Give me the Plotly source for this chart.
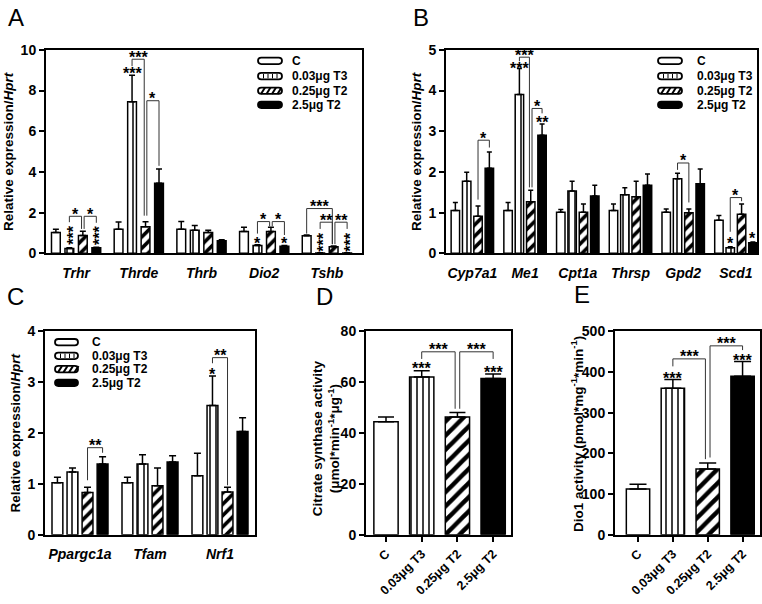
import plotly.graph_objects as go

W, H = 762, 604
FONT = "Liberation Sans, Arial, Helvetica, sans-serif"

series_names = ["C", "0.03μg T3", "0.25μg T2", "2.5μg T2"]

# ---------------- Panel A ----------------
genes_a = ["Trhr", "Thrde", "Thrb", "Dio2", "Tshb"]
a_c = [1.02, 1.18, 1.18, 1.07, 0.86]
a_c_sem = [0.16, 0.36, 0.38, 0.21, 0.04]
a_t3 = [0.24, 7.45, 1.13, 0.38, 0.02]
a_t3_sem = [0.03, 1.30, 0.24, 0.04, 0.01]
a_t2lo = [0.88, 1.31, 1.02, 1.07, 0.32]
a_t2lo_sem = [0.20, 0.24, 0.11, 0.21, 0.04]
a_t2hi = [0.27, 3.44, 0.62, 0.35, 0.02]
a_t2hi_sem = [0.03, 0.71, 0.05, 0.03, 0.01]

# ---------------- Panel B ----------------
genes_b = ["Cyp7a1", "Me1", "Cpt1a", "Thrsp", "Gpd2", "Scd1"]
b_c = [1.05, 1.05, 1.01, 1.05, 1.01, 0.81]
b_c_sem = [0.20, 0.20, 0.07, 0.16, 0.08, 0.12]
b_t3 = [1.77, 3.90, 1.53, 1.44, 1.83, 0.14]
b_t3_sem = [0.22, 0.64, 0.24, 0.17, 0.14, 0.02]
b_t2lo = [0.91, 1.27, 1.01, 1.39, 1.00, 0.96]
b_t2lo_sem = [0.25, 0.28, 0.20, 0.38, 0.09, 0.25]
b_t2hi = [2.09, 2.90, 1.41, 1.67, 1.71, 0.26]
b_t2hi_sem = [0.40, 0.28, 0.26, 0.28, 0.36, 0.02]

# ---------------- Panel C ----------------
genes_c = ["Ppargc1a", "Tfam", "Nrf1"]
c_c = [1.02, 1.02, 1.16]
c_c_sem = [0.11, 0.11, 0.44]
c_t3 = [1.23, 1.39, 2.54]
c_t3_sem = [0.08, 0.18, 0.58]
c_t2lo = [0.83, 0.96, 0.84]
c_t2lo_sem = [0.10, 0.35, 0.09]
c_t2hi = [1.39, 1.43, 2.03]
c_t2hi_sem = [0.14, 0.12, 0.27]

# ---------------- Panel D (citrate synthase) ----------------
d_vals = [44.4, 62.0, 46.3, 61.4]
d_sems = [1.9, 2.5, 1.7, 1.8]

# ---------------- Panel E (Dio1 activity) ----------------
e_vals = [112, 360, 161.6, 389.6]
e_sems = [12, 21.6, 14.4, 36]

# significance: (group, bar_i, bar_j, bracket_y, leg_i_bottom, leg_j_bottom, label)
brackets_a = [
    (0, 1, 2, 1.82, 1.53, 1.20, "*"),
    (0, 2, 3, 1.82, 1.20, 1.50, "*"),
    (1, 1, 2, 9.54, 9.20, 1.85, "***"),
    (1, 2, 3, 7.50, 1.85, 4.30, "*"),
    (3, 1, 2, 1.56, 0.97, 1.33, "*"),
    (3, 2, 3, 1.56, 1.33, 0.90, "*"),
    (4, 0, 2, 2.20, 0.97, 0.45, "***"),
    (4, 1, 2, 1.53, 1.20, 0.45, "**"),
    (4, 2, 3, 1.53, 0.45, 1.20, "**"),
]
stars_a = [  # (group, bar, y, label, vertical)
    (0, 1, 0.87, "***", True),
    (0, 3, 0.86, "***", True),
    (1, 1, 9.04, "***", False),
    (3, 1, 0.67, "*", False),
    (3, 3, 0.67, "*", False),
    (4, 1, 0.57, "***", True),
    (4, 3, 0.57, "***", True),
]
brackets_b = [
    (0, 2, 3, 2.78, 1.32, 2.60, "*"),
    (1, 1, 2, 4.82, 4.72, 1.62, "***"),
    (1, 2, 3, 3.56, 1.62, 3.44, "*"),
    (4, 1, 2, 2.22, 2.05, 1.25, "*"),
    (5, 1, 2, 1.37, 0.53, 1.28, "*"),
]
stars_b = [
    (1, 1, 4.63, "***", False),
    (1, 3, 3.32, "**", False),
    (5, 1, 0.33, "*", False),
    (5, 3, 0.45, "*", False),
]
brackets_c = [
    (0, 2, 3, 1.71, 1.07, 1.61, "**"),
    (2, 1, 2, 3.48, 3.37, 0.97, "**"),
]
stars_c = [
    (2, 1, 3.23, "*", False),
]
brackets_d = [
    (0, 1, 2, 71.9, 69.1, 49.5, "***"),
    (0, 2, 3, 71.9, 49.5, 69.1, "***"),
]
stars_d = [
    (0, 1, 67.0, "***", False),
    (0, 3, 65.3, "***", False),
]
brackets_e = [
    (0, 1, 2, 432, 413.6, 185.6, "***"),
    (0, 2, 3, 464, 189.6, 453.6, "***"),
]
stars_e = [
    (0, 1, 393.6, "***", False),
    (0, 3, 437.6, "***", False),
]


def px(x):
    return x / W


def py(y):
    return 1 - y / H


panels = [
    dict(key="A", sfx="", dx=(46, 362), dy=(43, 252), xr=[-0.48, 4.56], yr=[0, 10], dtick=2,
         cats=genes_a, vals=[a_c, a_t3, a_t2lo, a_t2hi],
         sems=[a_c_sem, a_t3_sem, a_t2lo_sem, a_t2hi_sem], grouped=True, width=0.14, cap=3,
         brackets=brackets_a, stars=stars_a, title="Relative expression/<i>Hprt</i>",
         tx=8.5, ty=147.5, letter=(15.5, 14)),
    dict(key="B", sfx="2", dx=(446, 757), dy=(43, 252), xr=[-0.5, 5.4], yr=[0, 5], dtick=1,
         cats=genes_b, vals=[b_c, b_t3, b_t2lo, b_t2hi],
         sems=[b_c_sem, b_t3_sem, b_t2lo_sem, b_t2hi_sem], grouped=True, width=0.16, cap=2.5,
         brackets=brackets_b, stars=stars_b, title="Relative expression/<i>Hprt</i>",
         tx=416.5, ty=147.5, letter=(421, 14)),
    dict(key="C", sfx="3", dx=(45, 255), dy=(332, 541), xr=[-0.5, 2.5], yr=[0, 4], dtick=1,
         cats=genes_c, vals=[c_c, c_t3, c_t2lo, c_t2hi],
         sems=[c_c_sem, c_t3_sem, c_t2lo_sem, c_t2hi_sem], grouped=True, width=0.155, cap=3.5,
         brackets=brackets_c, stars=stars_c, title="Relative expression/<i>Hprt</i>",
         tx=15, ty=437, letter=(15.5, 300)),
    dict(key="D", sfx="4", dx=(366, 511), dy=(332, 541), xr=[-0.56, 3.5], yr=[0, 80], dtick=20,
         cats=series_names, vals=d_vals, sems=d_sems, grouped=False, width=0.68, cap=8,
         brackets=brackets_d, stars=stars_d,
         title="Citrate synthase activity<br>(μmol*min<sup>-1</sup>*μg<sup>-1</sup>)",
         tx=326, ty=442, letter=(324, 300)),
    dict(key="E", sfx="5", dx=(615, 760), dy=(332, 541), xr=[-0.66, 3.5], yr=[0, 500], dtick=100,
         cats=series_names, vals=e_vals, sems=e_sems, grouped=False, width=0.67, cap=8.5,
         brackets=brackets_e, stars=stars_e,
         title="Dio1 activity (pmol*mg<sup>-1</sup>*min<sup>-1</sup>)",
         tx=577, ty=437.5, letter=(581.5, 298)),
]

OFF = 0.215
LINE = dict(color="black", width=1.5)


def marker_style(b, big):
    if b == 0:
        return dict(color="white", line=LINE)
    if b == 1:
        return dict(color="white", line=LINE,
                    pattern=dict(shape="|", fgcolor="black", bgcolor="white",
                                 size=6, solidity=0.25, fillmode="replace"))
    if b == 2:
        return dict(color="white", line=LINE,
                    pattern=dict(shape="/", fgcolor="black", bgcolor="white",
                                 size=10 if big else 8, solidity=0.45, fillmode="replace"))
    return dict(color="black", line=LINE)


def bar_x(p, g, b):
    if p["grouped"]:
        return g + (b - 1.5) * OFF
    return b


fig = go.Figure()
shapes = []
anns = []
STAR_F = 16
GLY = 0.24 * STAR_F
STAR_FONT = dict(family=FONT, size=STAR_F, color="#000000", weight="bold")

for p in panels:
    xa = "x" + p["sfx"]
    ya = "y" + p["sfx"]
    if p["grouped"]:
        n = len(p["cats"])
        for b in range(4):
            fig.add_trace(go.Bar(
                x=[bar_x(p, g, b) for g in range(n)], y=p["vals"][b],
                width=p["width"], marker=marker_style(b, False),
                error_y=dict(type="data", symmetric=False, array=p["sems"][b],
                             arrayminus=[0] * n, color="black", thickness=1.5,
                             width=p["cap"]),
                xaxis=xa, yaxis=ya, showlegend=False, name=series_names[b]))
        tickvals = list(range(n))
    else:
        for b in range(4):
            fig.add_trace(go.Bar(
                x=[b], y=[p["vals"][b]], width=p["width"], marker=marker_style(b, True),
                error_y=dict(type="data", symmetric=False, array=[p["sems"][b]],
                             arrayminus=[0], color="black", thickness=1.5, width=p["cap"]),
                xaxis=xa, yaxis=ya, showlegend=False, name=series_names[b]))
        tickvals = list(range(4))

    x0, x1 = p["dx"]
    y0, y1 = p["dy"]
    upx = (x1 - x0) / (p["xr"][1] - p["xr"][0])  # px per x unit
    delta = (1.3 if p["grouped"] else 2.3) / upx

    xaxis = dict(domain=[px(x0), px(x1)], range=p["xr"], anchor=ya,
                 showline=True, linewidth=2, linecolor="black", mirror=True,
                 showgrid=False, zeroline=False, tickvals=tickvals, ticktext=p["cats"],
                 ticks="outside", ticklen=5 if not p["grouped"] else 6, tickwidth=2,
                 tickcolor="black" if not p["grouped"] else "rgba(0,0,0,0)")
    if p["grouped"]:
        xaxis["tickfont"] = dict(family=FONT, size=14, color="black", weight="bold", style="italic")
    else:
        xaxis["tickfont"] = dict(family=FONT, size=12.5, color="black", weight="bold")
        xaxis["tickangle"] = -45
    yaxis = dict(domain=[py(y1), py(y0)], range=p["yr"], dtick=p["dtick"], anchor=xa,
                 showline=True, linewidth=2, linecolor="black", mirror=True,
                 showgrid=False, zeroline=False, ticks="outside", ticklen=5, tickwidth=2,
                 tickcolor="black",
                 tickfont=dict(family=FONT, size=14, color="black", weight="bold"))
    fig.update_layout(**{"xaxis" + p["sfx"]: xaxis, "yaxis" + p["sfx"]: yaxis})

    # brackets
    brs = p["brackets"]
    for (g, i, j, h, bi, bj, lab) in brs:
        xi = bar_x(p, g, i)
        xj = bar_x(p, g, j)
        if any(o[0] == g and o[2] == i for o in brs):
            xi += delta
        if any(o[0] == g and o[1] == j for o in brs):
            xj -= delta
        shapes.append(dict(type="path", xref=xa, yref=ya,
                           path=f"M {xi},{bi} L {xi},{h} L {xj},{h} L {xj},{bj}",
                           line=dict(color="#333333", width=1)))
        anns.append(dict(x=(xi + xj) / 2, y=h, xref=xa, yref=ya, text=lab, showarrow=False,
                         font=STAR_FONT, xanchor="center", yanchor="middle", yshift=6 - GLY))
    for (g, b, yv, lab, vert) in p["stars"]:
        a = dict(x=bar_x(p, g, b), y=yv, xref=xa, yref=ya, text=lab, showarrow=False,
                 font=STAR_FONT, xanchor="center", yanchor="middle")
        if vert:
            a["textangle"] = -90
            a["xshift"] = GLY
        else:
            a["yshift"] = -GLY
        anns.append(a)

    # axis title
    anns.append(dict(x=px(p["tx"]), y=py(p["ty"]), xref="paper", yref="paper",
                     text=p["title"], showarrow=False, textangle=-90,
                     font=dict(family=FONT, size=13.5, color="black", weight="bold"),
                     xanchor="center", yanchor="middle"))
    # panel letter
    lx, ly = p["letter"]
    anns.append(dict(x=px(lx), y=py(ly), xref="paper", yref="paper", text=p["key"],
                     showarrow=False, font=dict(family=FONT, size=24, color="black"),
                     xanchor="center", yanchor="middle", yshift=4))

# manual legends (A, B, C)
legends = [
    dict(sx=258, ex=282, tx=290, rows=[54.3, 70, 85, 99.5]),
    dict(sx=658, ex=682, tx=695, rows=[54.3, 70, 85, 99.5]),
    dict(sx=55, ex=78, tx=90, rows=[343.3, 357.3, 371, 385]),
]
for lg in legends:
    for b, yc in enumerate(lg["rows"]):
        xa0, xa1 = lg["sx"], lg["ex"]
        t, bt = yc - 3.3, yc + 3.3
        r = 3.3
        path = (f"M {px(xa0 + r)},{py(t)} L {px(xa1 - r)},{py(t)} "
                f"Q {px(xa1)},{py(t)} {px(xa1)},{py(yc)} Q {px(xa1)},{py(bt)} {px(xa1 - r)},{py(bt)} "
                f"L {px(xa0 + r)},{py(bt)} Q {px(xa0)},{py(bt)} {px(xa0)},{py(yc)} "
                f"Q {px(xa0)},{py(t)} {px(xa0 + r)},{py(t)} Z")
        shapes.append(dict(type="path", xref="paper", yref="paper", path=path,
                           fillcolor="black" if b == 3 else "white",
                           line=dict(color="black", width=1.8)))
        if b == 1:
            for k in range(4):
                xx = xa0 + 5.5 + k * 4.5
                shapes.append(dict(type="line", xref="paper", yref="paper",
                                   x0=px(xx), x1=px(xx), y0=py(t + 1), y1=py(bt - 1),
                                   line=dict(color="black", width=1)))
        if b == 2:
            for k in range(4):
                xx = xa0 + 3 + k * 5.5
                shapes.append(dict(type="line", xref="paper", yref="paper",
                                   x0=px(xx), x1=px(xx + 4), y0=py(bt), y1=py(t),
                                   line=dict(color="black", width=2)))
        anns.append(dict(x=px(lg["tx"]), y=py(yc), xref="paper", yref="paper",
                         text=series_names[b], showarrow=False,
                         font=dict(family=FONT, size=12, color="black", weight="bold"),
                         xanchor="left", yanchor="middle"))

fig.update_layout(width=W, height=H, margin=dict(l=0, r=0, t=0, b=0),
                  paper_bgcolor="white", plot_bgcolor="white", barmode="overlay",
                  showlegend=False, shapes=shapes, annotations=anns,
                  font=dict(family=FONT, color="black"))

fig.write_html("out.html", config={"displayModeBar": False},
               post_script="document.body.style.margin='0';document.body.style.padding='0';"
                           "document.body.style.overflow='hidden';"
                           "document.documentElement.style.overflow='hidden';")
